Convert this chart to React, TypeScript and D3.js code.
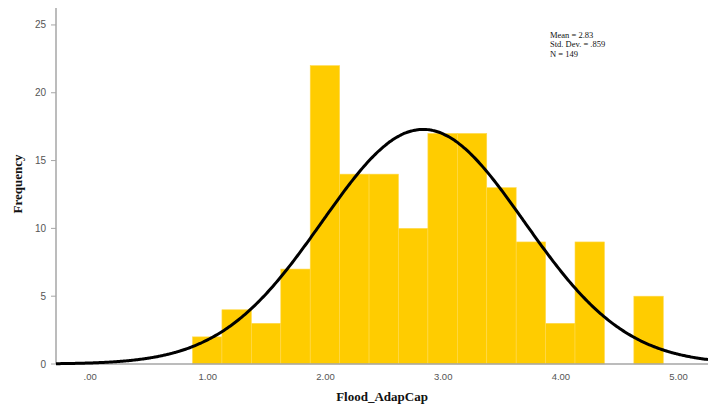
import React from "react";
import * as d3 from "d3";

// Histogram of Flood_AdapCap with a fitted normal curve
const binStarts = [0.87, 1.12, 1.37, 1.62, 1.87, 2.12, 2.37, 2.62, 2.87, 3.12, 3.37, 3.62, 3.87, 4.12, 4.37, 4.62];
const binWidth = 0.25;
const frequencies = [2, 4, 3, 7, 22, 14, 14, 10, 17, 17, 13, 9, 3, 9, 0, 5];
const xTicks = [0, 1, 2, 3, 4, 5];
const yTicks = [0, 5, 10, 15, 20, 25];
const statLines = ["Mean = 2.83", "Std. Dev. = .859", "N = 149"];
const mean = 2.83;
const stdDev = 0.859;
const n = 149;

const W = 708;
const H = 407;

export default function App() {
  const x = d3.scaleLinear().domain([-0.29, 5.25]).range([56, 708]);
  const y = d3.scaleLinear().domain([0, 26.25]).range([364, 8]);

  const density = (v: number) =>
    (n * binWidth) / (stdDev * Math.sqrt(2 * Math.PI)) *
    Math.exp(-0.5 * ((v - mean) / stdDev) ** 2);

  const [x0, x1] = x.domain();
  const curvePts = d3.range(0, 401).map((i) => {
    const v = x0 + ((x1 - x0) * i) / 400;
    return [v, density(v)] as [number, number];
  });
  const line = d3
    .line<[number, number]>()
    .x((d) => x(d[0]))
    .y((d) => y(d[1]))
    .curve(d3.curveBasis);

  const fmt = (v: number) => (v === 0 ? ".00" : v.toFixed(2));

  return (
    <svg
      width={W}
      height={H}
      style={{ position: "absolute", left: 0, top: 0, background: "#fff" }}
    >
      {/* bars */}
      <g>
        {binStarts.map((s, i) =>
          frequencies[i] > 0 ? (
            <rect
              key={i}
              x={x(s)}
              y={y(frequencies[i])}
              width={x(s + binWidth) - x(s)}
              height={y(0) - y(frequencies[i])}
              fill="#FFCC00"
              stroke="#FFD94D"
              strokeWidth={0.6}
            />
          ) : null
        )}
      </g>

      {/* axes */}
      <line x1={56} x2={708} y1={y(0)} y2={y(0)} stroke="#a6a6a6" strokeWidth={1.5} />
      <line x1={56} x2={56} y1={8} y2={y(0)} stroke="#a6a6a6" strokeWidth={1.5} />

      {yTicks.map((t) => (
        <g key={t}>
          <line x1={51} x2={56} y1={y(t)} y2={y(t)} stroke="#a6a6a6" strokeWidth={1} />
          <text
            x={46}
            y={y(t)}
            dy="0.35em"
            textAnchor="end"
            fontFamily="Liberation Sans, Arial, sans-serif"
            fontSize={10}
            fill="#555"
          >
            {t}
          </text>
        </g>
      ))}

      {xTicks.map((t) => (
        <text
          key={t}
          x={x(t)}
          y={380}
          textAnchor="middle"
          fontFamily="Liberation Sans, Arial, sans-serif"
          fontSize={9.5}
          fill="#555"
        >
          {fmt(t)}
        </text>
      ))}

      {/* normal curve */}
      <path d={line(curvePts) || ""} fill="none" stroke="#000" strokeWidth={3} />

      {/* axis titles */}
      <text
        x={382}
        y={401}
        textAnchor="middle"
        fontFamily="Liberation Serif, Times New Roman, serif"
        fontWeight="bold"
        fontSize={13}
        fill="#111"
      >
        Flood_AdapCap
      </text>
      <text
        transform={`translate(22,184) rotate(-90)`}
        textAnchor="middle"
        fontFamily="Liberation Serif, Times New Roman, serif"
        fontWeight="bold"
        fontSize={13}
        fill="#111"
      >
        Frequency
      </text>

      {/* summary statistics */}
      {statLines.map((s, i) => (
        <text
          key={s}
          x={550}
          y={38 + i * 9.3}
          fontFamily="Liberation Serif, Times New Roman, serif"
          fontSize={8.5}
          fill="#111"
        >
          {s}
        </text>
      ))}
    </svg>
  );
}
